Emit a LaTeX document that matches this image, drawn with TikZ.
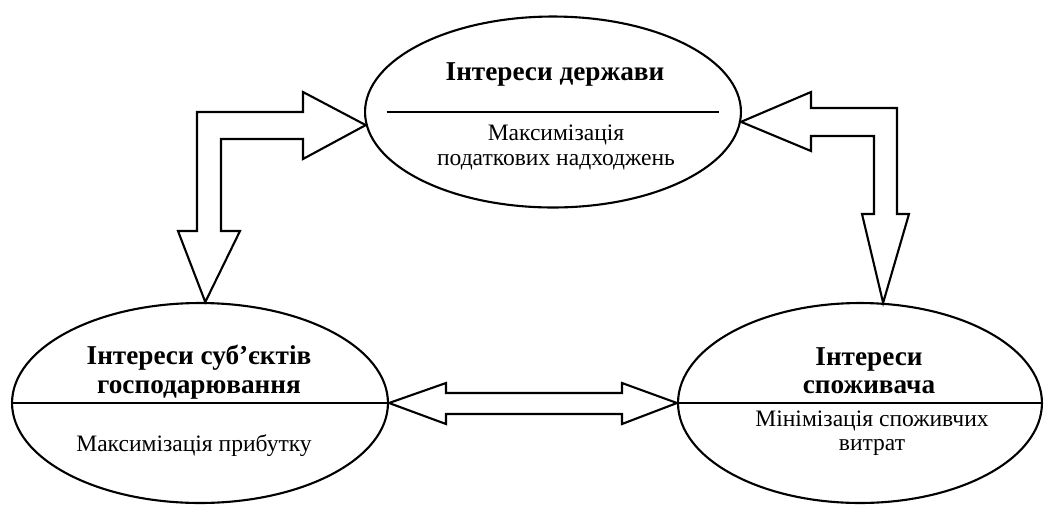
\documentclass[tikz,border=0pt]{standalone}
\usepackage{fontspec}
\setmainfont{Liberation Serif}
\usepackage{tikz}
\usetikzlibrary{calc,shapes.geometric}

\begin{document}
\begin{tikzpicture}[x=0.02cm,y=-0.02cm,line width=1.2pt,
    oval/.style={draw,ellipse,inner sep=0pt},
    title/.style={font=\fontsize{15.5}{16.4}\selectfont\bfseries,align=center,inner sep=0pt},
    sub/.style={font=\fontsize{13.4}{14.2}\selectfont,align=center,inner sep=0pt},
    block/.style={draw,line join=miter}]
      \useasboundingbox (0,0) rectangle (1046,505);

      \node[oval,minimum width=7.52cm,minimum height=3.82cm] (derzh) at (553,112) {};
      \node[oval,minimum width=7.52cm,minimum height=4.0cm] (subj) at (200,403) {};
      \node[oval,minimum width=7.28cm,minimum height=4.0cm] (spozh) at (860,403) {};

      \draw ($(derzh.west)!.06!(derzh.east)$) -- ($(derzh.west)!.94!(derzh.east)$);
      \draw (subj.west) -- (subj.east);
      \draw (spozh.west) -- (spozh.east);

      \node[title,anchor=base] (derzhT) at (555,80) {Інтереси держави};
      \node[sub,anchor=base] (derzhS) at (556,165) {Максимізація\\податкових надходжень};
      \node[title,anchor=base] (subjT) at (199,393) {Інтереси суб’єктів\\господарювання};
      \node[sub,anchor=base] (subjS) at (194,451) {Максимізація прибутку};
      \node[title,anchor=base,font=\fontsize{15.5}{15.9}\selectfont\bfseries] (spozhT) at (869,393) {Інтереси\\споживача};
      \node[sub,anchor=base,font=\fontsize{13.4}{13.6}\selectfont] (spozhS) at (872,450) {Мінімізація споживчих\\витрат};

      % derzh <-> subj
      \draw[block] (derzh.184) -- (303,92) -- (303,112) -- (197,112) -- (197,231) -- (178,231)
        -- (subj.87) -- (240,231) -- (221,231) -- (221,139) -- (303,139) -- (303,159) -- cycle;
      % derzh <-> spozh
      \draw[block] (derzh.-3) -- (811,92) -- (811,108) -- (897,108) -- (897,214) -- (909,214)
        -- (spozh.77) -- (862,214) -- (874,214) -- (874,136) -- (811,136) -- (811,151) -- cycle;
      % subj <-> spozh
      \draw[block] (subj.east) -- (446,383) -- (446,393) -- (622,393) -- (622,383)
        -- (spozh.west) -- (622,424) -- (622,414) -- (446,414) -- (446,424) -- cycle;
\end{tikzpicture}
\end{document}
